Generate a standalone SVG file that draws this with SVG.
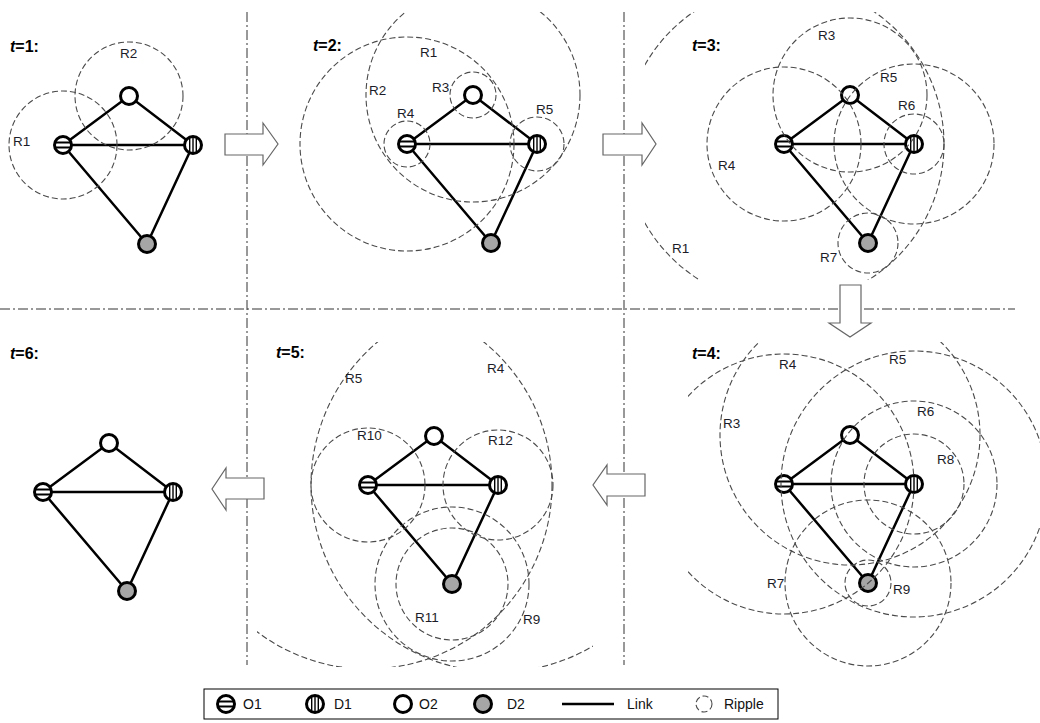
<svg xmlns="http://www.w3.org/2000/svg" width="1040" height="723" viewBox="0 0 1040 723">
<style>
.sep{fill:none;stroke:#333;stroke-width:1;stroke-dasharray:10 3 2 3}
.rip{fill:none;stroke:#4a4a4a;stroke-width:1.1;stroke-dasharray:6 3}
.lnk{stroke:#000;stroke-width:2.5;fill:none}
.arr{fill:#fff;stroke:#666;stroke-width:1.2}
.lab{font-family:"Liberation Sans",Arial,sans-serif;font-size:13.5px;fill:#1c1c28}
.ttl{font-family:"Liberation Sans",Arial,sans-serif;font-size:16px;font-weight:bold;fill:#000}
.leg{font-family:"Liberation Sans",Arial,sans-serif;font-size:14px;fill:#111}
</style>
<defs>
<g id="sO1"><circle r="8.5" fill="#fff" stroke="#000" stroke-width="3"/><path d="M-7.5 -2.6H7.5M-7.5 2.6H7.5" stroke="#000" stroke-width="2"/></g>
<g id="sD1"><circle r="8.5" fill="#fff" stroke="#000" stroke-width="3"/><path d="M-3.3 -7.5V7.5M0 -7.5V7.5M3.3 -7.5V7.5" stroke="#000" stroke-width="1.4"/></g>
<g id="sO2"><circle r="8.5" fill="#fff" stroke="#000" stroke-width="3"/></g>
<g id="sD2"><circle r="8.5" fill="#a6a6a6" stroke="#000" stroke-width="3"/></g>
<clipPath id="c1"><rect x="0" y="0" width="246" height="305"/></clipPath>
<clipPath id="c2"><rect x="250" y="12" width="370" height="290"/></clipPath>
<clipPath id="c3"><rect x="645" y="12" width="395" height="268"/></clipPath>
<clipPath id="c4"><rect x="688" y="342" width="352" height="340"/></clipPath>
<clipPath id="c5"><rect x="257" y="342" width="336" height="325"/></clipPath>
</defs>
<rect width="1040" height="723" fill="#fff"/>

<g id="separators">
<line class="sep" x1="247" y1="12" x2="247" y2="665"/>
<line class="sep" x1="624" y1="12" x2="624" y2="665"/>
<line class="sep" x1="0" y1="309" x2="1015" y2="309"/>
</g>

<g id="arrows">
<polygon class="arr" points="225,134 263,134 263,123 278,144 263,165 263,155 225,155"/>
<polygon class="arr" points="603,134 642,134 642,123 656,144 642,165 642,155 603,155"/>
<polygon class="arr" points="840,285 861,285 861,323 871,323 850,337 829,323 840,323"/>
<polygon class="arr" points="645,474 607,474 607,465 593,485 607,505 607,496 645,496"/>
<polygon class="arr" points="264,478 226,478 226,468 212,489 226,510 226,499 264,499"/>
</g>

<g id="connectors">
<path class="lnk" d="M63 145L129 96L193 145M63 145H193M63 145L147 244L193 145"/>
<path class="lnk" d="M407 144L473 95L537 144M407 144H537M407 144L491 243L537 144"/>
<path class="lnk" d="M784 144L850 95L914 144M784 144H914M784 144L868 243L914 144"/>
<path class="lnk" d="M784 484L850 435L914 484M784 484H914M784 484L868 583L914 484"/>
<path class="lnk" d="M368 485L434 436L498 485M368 485H498M368 485L452 584L498 485"/>
<path class="lnk" d="M43 492L109 443L173 492M43 492H173M43 492L127 591L173 492"/>
</g>

<g id="t1-O1"><use href="#sO1" x="63" y="145"/></g>
<g id="t1-O2"><use href="#sO2" x="129" y="96"/></g>
<g id="t1-D1"><use href="#sD1" x="193" y="145"/></g>
<g id="t1-D2"><use href="#sD2" x="147" y="244"/></g>
<g id="t2-O1"><use href="#sO1" x="407" y="144"/></g>
<g id="t2-O2"><use href="#sO2" x="473" y="95"/></g>
<g id="t2-D1"><use href="#sD1" x="537" y="144"/></g>
<g id="t2-D2"><use href="#sD2" x="491" y="243"/></g>
<g id="t3-O1"><use href="#sO1" x="784" y="144"/></g>
<g id="t3-O2"><use href="#sO2" x="850" y="95"/></g>
<g id="t3-D1"><use href="#sD1" x="914" y="144"/></g>
<g id="t3-D2"><use href="#sD2" x="868" y="243"/></g>
<g id="t4-O1"><use href="#sO1" x="784" y="484"/></g>
<g id="t4-O2"><use href="#sO2" x="850" y="435"/></g>
<g id="t4-D1"><use href="#sD1" x="914" y="484"/></g>
<g id="t4-D2"><use href="#sD2" x="868" y="583"/></g>
<g id="t5-O1"><use href="#sO1" x="368" y="485"/></g>
<g id="t5-O2"><use href="#sO2" x="434" y="436"/></g>
<g id="t5-D1"><use href="#sD1" x="498" y="485"/></g>
<g id="t5-D2"><use href="#sD2" x="452" y="584"/></g>
<g id="t6-O1"><use href="#sO1" x="43" y="492"/></g>
<g id="t6-O2"><use href="#sO2" x="109" y="443"/></g>
<g id="t6-D1"><use href="#sD1" x="173" y="492"/></g>
<g id="t6-D2"><use href="#sD2" x="127" y="591"/></g>

<g id="ripples-t1" clip-path="url(#c1)">
<circle class="rip" cx="63" cy="145" r="54"/>
<circle class="rip" cx="129" cy="96" r="54"/>
</g>
<g id="ripples-t2" clip-path="url(#c2)">
<circle class="rip" cx="407" cy="144" r="107"/>
<circle class="rip" cx="473" cy="95" r="107"/>
<circle class="rip" cx="473" cy="95" r="23"/>
<circle class="rip" cx="407" cy="144" r="23"/>
<circle class="rip" cx="537" cy="144" r="27"/>
</g>
<g id="ripples-t3" clip-path="url(#c3)">
<circle class="rip" cx="784" cy="144" r="160"/>
<circle class="rip" cx="850" cy="95" r="77"/>
<circle class="rip" cx="784" cy="144" r="77"/>
<circle class="rip" cx="914" cy="144" r="80"/>
<circle class="rip" cx="914" cy="144" r="30"/>
<circle class="rip" cx="868" cy="243" r="30"/>
</g>
<g id="ripples-t4" clip-path="url(#c4)">
<circle class="rip" cx="850" cy="435" r="130"/>
<circle class="rip" cx="784" cy="484" r="130"/>
<circle class="rip" cx="914" cy="484" r="133"/>
<circle class="rip" cx="914" cy="484" r="83"/>
<circle class="rip" cx="868" cy="583" r="83"/>
<circle class="rip" cx="914" cy="484" r="50"/>
<circle class="rip" cx="868" cy="583" r="23"/>
</g>
<g id="ripples-t5" clip-path="url(#c5)">
<circle class="rip" cx="368" cy="485" r="184"/>
<circle class="rip" cx="498" cy="485" r="187"/>
<circle class="rip" cx="452" cy="584" r="77"/>
<circle class="rip" cx="368" cy="485" r="57"/>
<circle class="rip" cx="452" cy="584" r="56"/>
<circle class="rip" cx="498" cy="485" r="55"/>
</g>

<g id="labels">
<text class="ttl" x="10" y="52"><tspan font-style="italic">t</tspan>=1:</text>
<text class="ttl" x="313" y="51"><tspan font-style="italic">t</tspan>=2:</text>
<text class="ttl" x="692" y="51"><tspan font-style="italic">t</tspan>=3:</text>
<text class="ttl" x="692" y="359"><tspan font-style="italic">t</tspan>=4:</text>
<text class="ttl" x="276" y="358"><tspan font-style="italic">t</tspan>=5:</text>
<text class="ttl" x="10" y="359"><tspan font-style="italic">t</tspan>=6:</text>

<text class="lab" x="13" y="146">R1</text>
<text class="lab" x="120" y="58">R2</text>

<text class="lab" x="420" y="57">R1</text>
<text class="lab" x="369" y="95">R2</text>
<text class="lab" x="432" y="92">R3</text>
<text class="lab" x="397" y="118">R4</text>
<text class="lab" x="536" y="114">R5</text>

<text class="lab" x="818" y="40">R3</text>
<text class="lab" x="880" y="82">R5</text>
<text class="lab" x="898" y="110">R6</text>
<text class="lab" x="718" y="170">R4</text>
<text class="lab" x="820" y="262">R7</text>
<text class="lab" x="672" y="253">R1</text>

<text class="lab" x="779" y="369">R4</text>
<text class="lab" x="889" y="364">R5</text>
<text class="lab" x="917" y="416">R6</text>
<text class="lab" x="937" y="464">R8</text>
<text class="lab" x="723" y="428">R3</text>
<text class="lab" x="767" y="588">R7</text>
<text class="lab" x="893" y="594">R9</text>

<text class="lab" x="345" y="383">R5</text>
<text class="lab" x="487" y="373">R4</text>
<text class="lab" x="357" y="440">R10</text>
<text class="lab" x="488" y="445">R12</text>
<text class="lab" x="415" y="622">R11</text>
<text class="lab" x="523" y="624">R9</text>
</g>

<g id="legend">
<rect x="204" y="689" width="574" height="30" fill="#fff" stroke="#000" stroke-width="1"/>
<use href="#sO1" x="226" y="704"/>
<text class="leg" x="243" y="709">O1</text>
<use href="#sD1" x="315" y="704"/>
<text class="leg" x="334" y="709">D1</text>
<use href="#sO2" x="403" y="704"/>
<text class="leg" x="419" y="709">O2</text>
<use href="#sD2" x="483" y="704"/>
<text class="leg" x="507" y="709">D2</text>
<line class="lnk" x1="562" y1="704" x2="614" y2="704"/>
<text class="leg" x="627" y="709">Link</text>
<circle class="rip" cx="704" cy="704" r="8"/>
<text class="leg" x="724" y="709">Ripple</text>
</g>
</svg>
